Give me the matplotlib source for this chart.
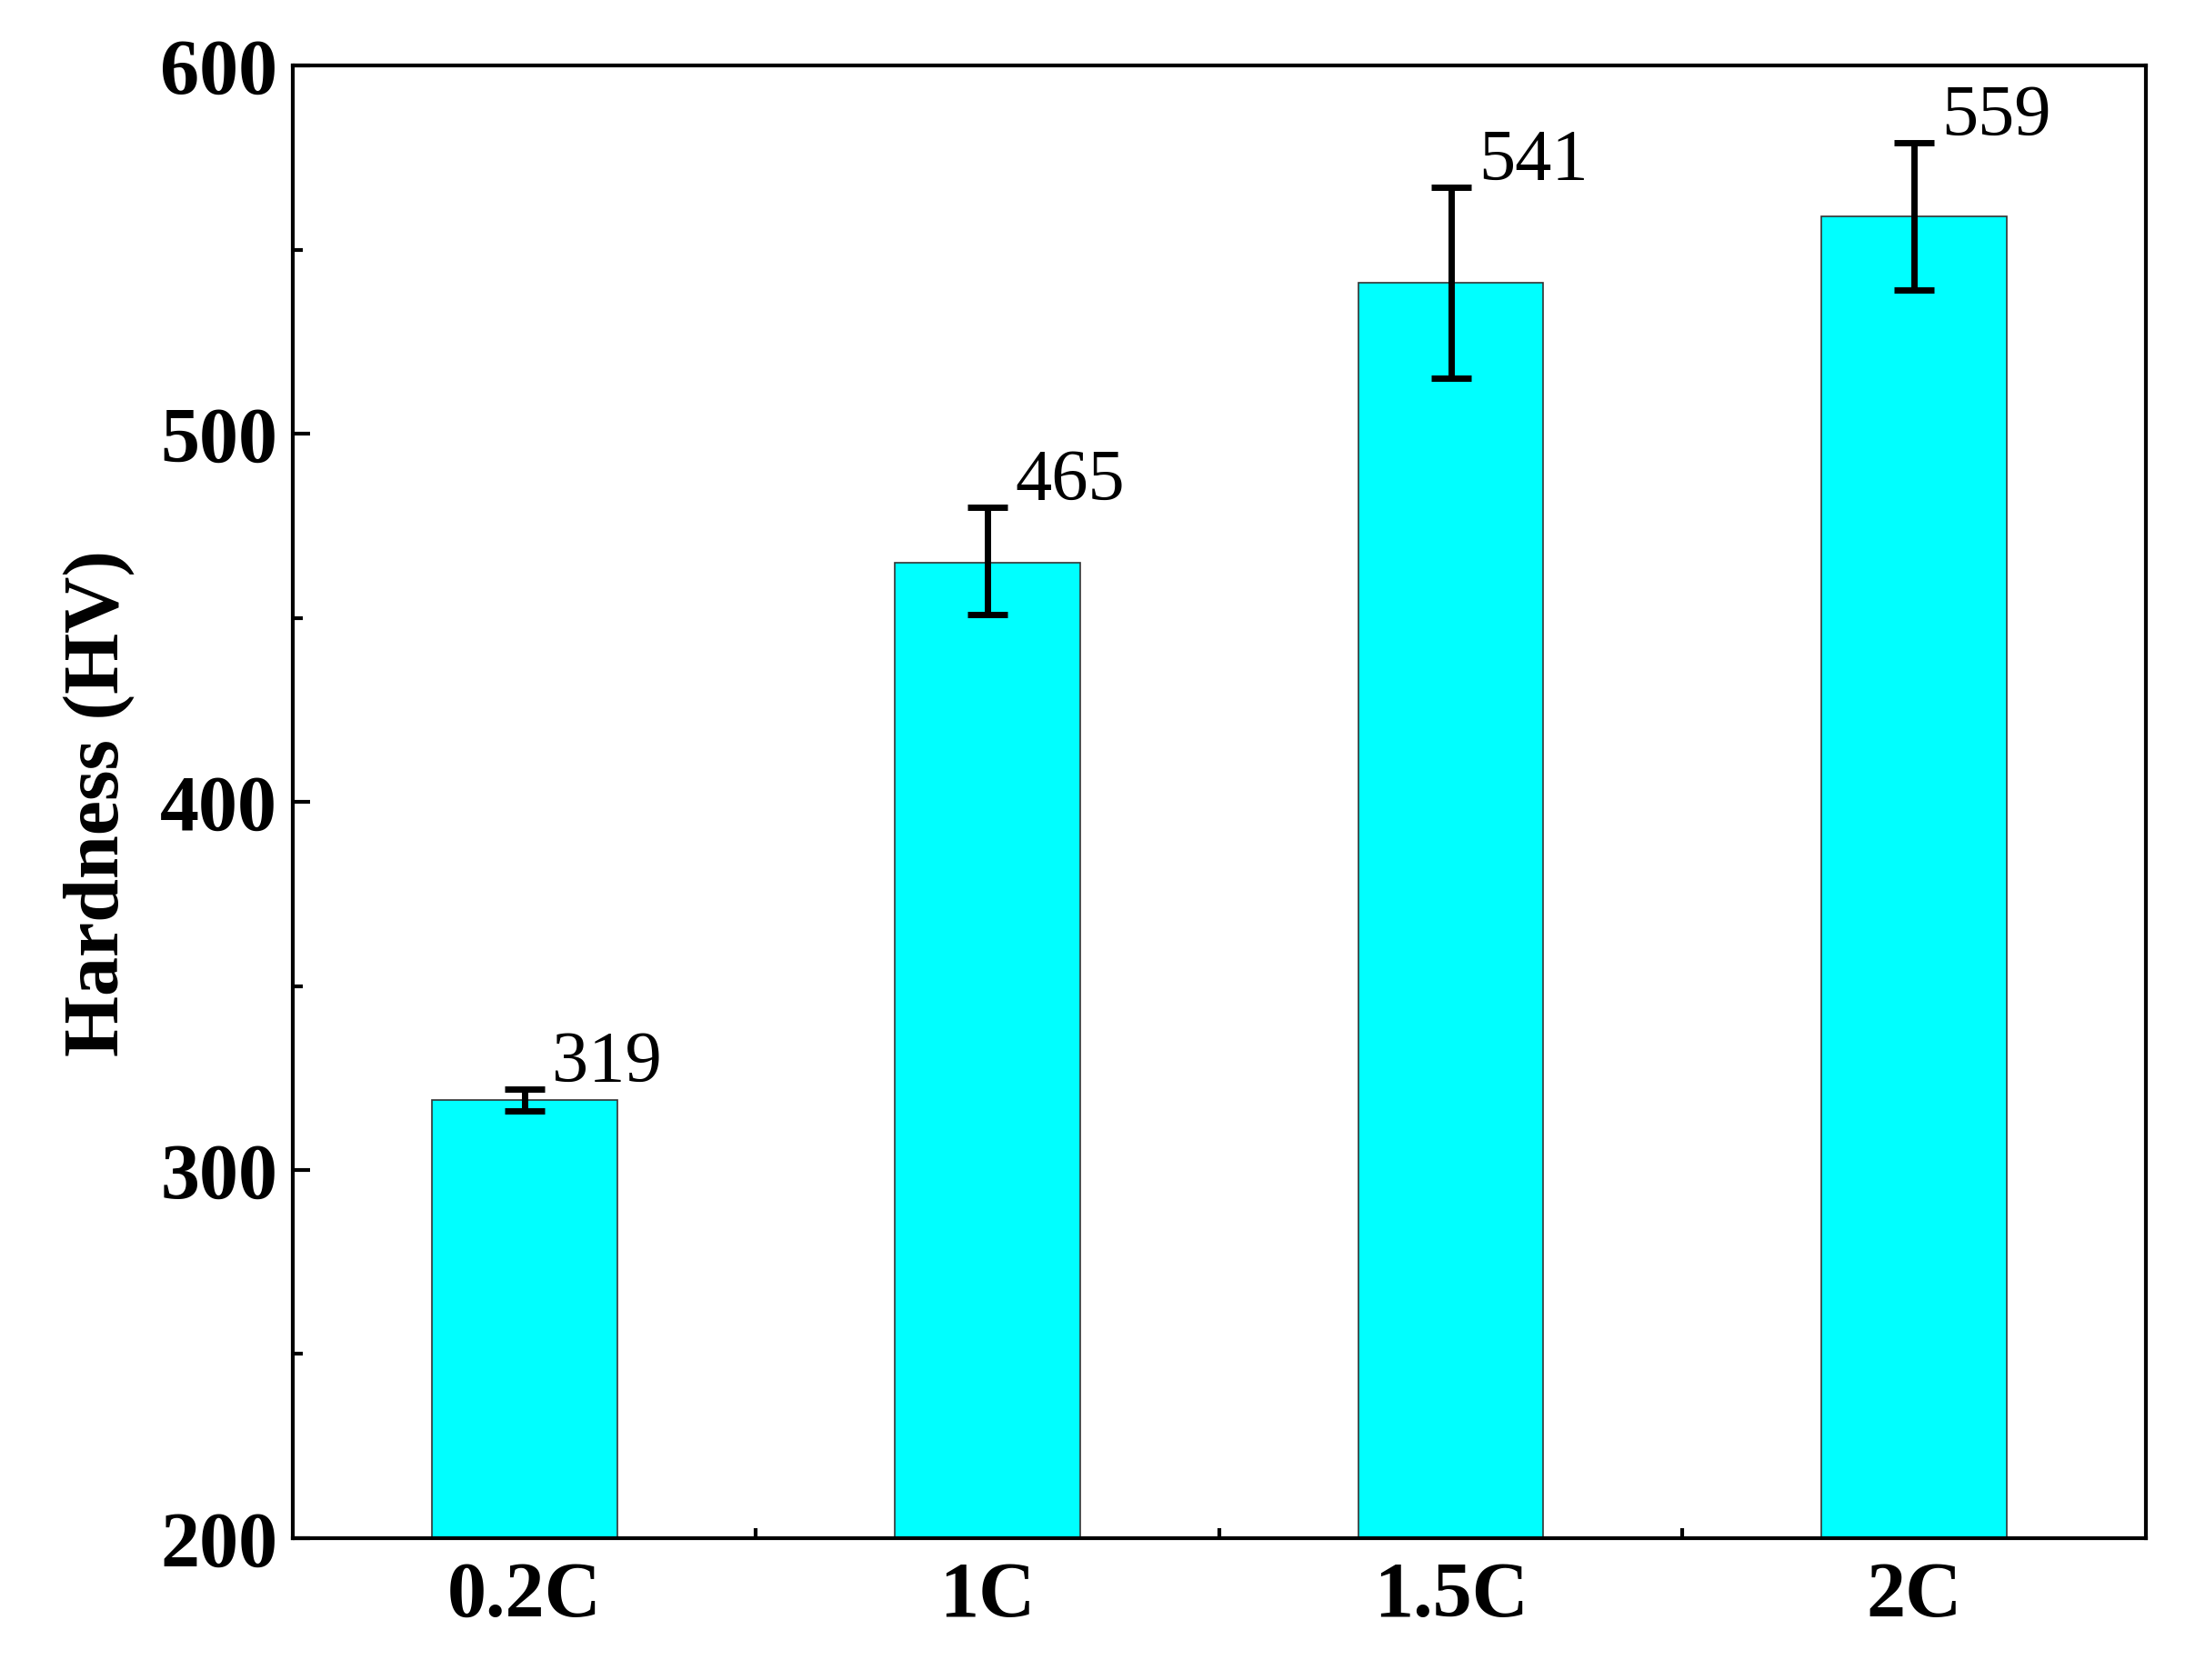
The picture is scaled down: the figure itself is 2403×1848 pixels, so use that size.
import matplotlib
matplotlib.use("Agg")
import matplotlib.pyplot as plt
from matplotlib.ticker import MultipleLocator, FixedLocator

categories = ["0.2C", "1C", "1.5C", "2C"]
hardness = [319, 465, 541, 559]
err_low = [3, 14, 26, 20]
err_high = [3, 15, 26, 20]
labels = ["319", "465", "541", "559"]

plt.rcParams['font.family'] = ['Liberation Serif', 'DejaVu Serif']
fig = plt.figure(figsize=(24.03, 18.49), dpi=100)
ax = fig.add_axes([0.134, 0.0844, 0.848, 0.876])
x = [1, 2, 3, 4]
ax.bar(x, hardness, width=0.4, color="#00FFFF", edgecolor="#333333", linewidth=1.2, zorder=2)
ax.errorbar(x, hardness, yerr=[err_low, err_high], fmt="none", ecolor="black",
            elinewidth=5, capsize=16, capthick=5, zorder=3)
for xi, h, eh, t in zip(x, hardness, err_high, labels):
    ax.text(xi + 0.06, h + eh - 2, t, fontsize=58, ha="left", va="bottom")
ax.set_xlim(0.5, 4.5)
ax.set_ylim(200, 600)
ax.set_xticks(x)
ax.set_xticklabels(categories)
ax.xaxis.set_minor_locator(FixedLocator([1.5, 2.5, 3.5]))
ax.yaxis.set_major_locator(MultipleLocator(100))
ax.yaxis.set_minor_locator(MultipleLocator(50))
ax.tick_params(axis="both", which="major", direction="in", length=14, width=3, labelsize=62, pad=12)
ax.tick_params(axis="both", which="minor", direction="in", length=8, width=3)
ax.tick_params(axis="x", which="major", length=0, pad=18)
for lab in ax.get_xticklabels() + ax.get_yticklabels():
    lab.set_fontweight("bold")
ax.set_ylabel("Hardness (HV)", fontsize=62, fontweight="bold", labelpad=20)
for s in ax.spines.values():
    s.set_linewidth(3)
fig.savefig("out.png", dpi=100)
